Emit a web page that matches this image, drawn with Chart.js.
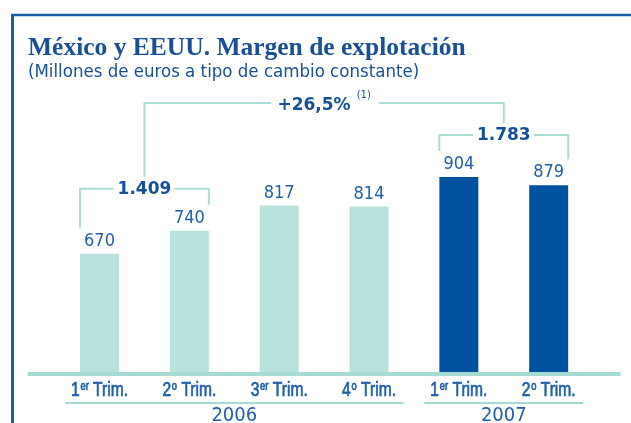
<!DOCTYPE html>
<html>
<head>
<meta charset="utf-8">
<script src="https://cdn.jsdelivr.net/npm/chart.js@4"></script>
<style>
  html, body { margin: 0; padding: 0; background: #ffffff; overflow: hidden; }
  #wrap { width: 631px; height: 423px; position: relative; }
</style>
</head>
<body>
<div id="wrap"><canvas id="c" width="631" height="423"></canvas></div>
<script>
// Quarterly operating margin, Mexico and USA (millions of euros, constant FX)
const quarterNumbers = ['1', '2', '3', '4', '1', '2'];
const quarterSuffixes = ['er', 'o', 'er', 'o', 'er', 'o'];
const quarterWord = 'Trim.';
const years = ['2006', '2007'];
const quarterYear = [0, 0, 0, 0, 1, 1];
const values = [670, 740, 817, 814, 904, 879];

// First-half totals and the year-on-year change between them
const halfTotals = ['1.409', '1.783'];
const halfMembers = [[0, 1], [4, 5]];
const growthLabel = '+26,5%';
const growthNote = '(1)';

const titleText = 'México y EEUU. Margen de explotación';
const subtitleText = '(Millones de euros a tipo de cambio constante)';

const COLORS = {
  frame: '#1b5ea8',
  title: '#1a4f98',
  text: '#2260aa',
  strong: '#17509a',
  light: '#b9e2dc',
  dark: '#00519e',
  rule: '#a6dbd4',
  bracket: '#a9ddd6'
};

const FONT_REG = '"Liberation Sans Narrow", "DejaVu Sans Condensed", sans-serif';
const FONT_BOLD = '"DejaVu Sans", sans-serif';
const TICK_FONT = '"Liberation Sans", sans-serif';
const TICK_SQUEEZE = 0.78;   // horizontal compression for the condensed tick lettering

const decorations = {
  id: 'decorations',
  beforeDraw(chart) {
    const ctx = chart.ctx;
    ctx.save();
    // frame: top rule and left rule
    ctx.strokeStyle = COLORS.frame;
    ctx.lineWidth = 2.5;
    ctx.beginPath();
    ctx.moveTo(11, 15); ctx.lineTo(chart.width, 15);
    ctx.stroke();
    ctx.lineWidth = 3;
    ctx.beginPath();
    ctx.moveTo(12.5, 14); ctx.lineTo(12.5, chart.height);
    ctx.stroke();

    // headings
    ctx.fillStyle = COLORS.title;
    ctx.textBaseline = 'alphabetic';
    ctx.textAlign = 'left';
    ctx.font = 'bold 25.5px "Liberation Serif", serif';
    ctx.fillText(titleText, 28, 55);
    ctx.font = '18.5px ' + FONT_REG;
    ctx.fillText(subtitleText, 28, 77);
    ctx.restore();
  },
  afterDatasetsDraw(chart) {
    const ctx = chart.ctx;
    const bars = chart.getDatasetMeta(0).data;
    const area = chart.chartArea;
    ctx.save();

    // baseline rule
    ctx.strokeStyle = COLORS.rule;
    ctx.lineWidth = 4;
    ctx.beginPath();
    ctx.moveTo(area.left - 27, area.bottom - 1);
    ctx.lineTo(area.right + 27, area.bottom - 1);
    ctx.stroke();

    // value labels above bars
    ctx.fillStyle = COLORS.text;
    ctx.textAlign = 'center';
    ctx.textBaseline = 'alphabetic';
    ctx.font = '18px "DejaVu Sans Condensed", sans-serif';
    bars.forEach((b, i) => {
      ctx.fillText(String(values[i]), b.x, b.y - 8);
    });

    // quarter labels with ordinal superscripts (condensed by a horizontal squeeze)
    const tickY = area.bottom + 21;
    const numFont = '20px ' + TICK_FONT;
    const supFont = '12px ' + TICK_FONT;
    ctx.strokeStyle = COLORS.text;
    ctx.lineWidth = 0.7;
    const draw = (s, x, y) => { ctx.fillText(s, x, y); ctx.strokeText(s, x, y); };
    bars.forEach((b, i) => {
      ctx.font = numFont;
      const wNum = ctx.measureText(quarterNumbers[i]).width;
      const wWord = ctx.measureText(' ' + quarterWord).width;
      ctx.font = supFont;
      const wSup = ctx.measureText(quarterSuffixes[i]).width + 1;
      const total = wNum + wSup + wWord;
      ctx.save();
      ctx.translate(b.x - total * TICK_SQUEEZE / 2, tickY);
      ctx.scale(TICK_SQUEEZE, 1);
      ctx.textAlign = 'left';
      ctx.font = numFont;
      draw(quarterNumbers[i], 0, 0);
      ctx.font = supFont;
      draw(quarterSuffixes[i], wNum + 1, -6);
      ctx.font = numFont;
      draw(' ' + quarterWord, wNum + wSup, 0);
      ctx.restore();
    });

    // year group rules and labels
    years.forEach((yr, g) => {
      const idx = quarterYear.map((q, i) => q === g ? i : -1).filter(i => i >= 0);
      const first = bars[idx[0]], last = bars[idx[idx.length - 1]];
      const x0 = first.x - first.width / 2 - 15;
      const x1 = last.x + last.width / 2 + 15;
      ctx.strokeStyle = COLORS.rule;
      ctx.lineWidth = 2;
      ctx.beginPath();
      ctx.moveTo(x0, area.bottom + 28);
      ctx.lineTo(x1, area.bottom + 28);
      ctx.stroke();
      ctx.fillStyle = COLORS.text;
      ctx.textAlign = 'center';
      ctx.font = '20px "DejaVu Sans Condensed", sans-serif';
      ctx.fillText(yr, (x0 + x1) / 2, area.bottom + 46);
    });

    // first-half brackets
    ctx.strokeStyle = COLORS.bracket;
    ctx.lineWidth = 2;
    ctx.font = 'bold 17px ' + FONT_BOLD;
    ctx.textAlign = 'center';
    ctx.textBaseline = 'middle';
    const halfGeom = halfMembers.map((m, h) => {
      const a = bars[m[0]], b = bars[m[1]];
      const xl = a.x - a.width / 2;
      const xr = b.x + b.width / 2;
      const y = Math.min(a.y, b.y) - 42;
      const cx = (xl + xr) / 2;
      const w = ctx.measureText(halfTotals[h]).width;
      ctx.beginPath();
      ctx.moveTo(xl, a.y - 26); ctx.lineTo(xl, y); ctx.lineTo(cx - w / 2 - 4, y);
      ctx.moveTo(cx + w / 2 + 3, y); ctx.lineTo(xr, y); ctx.lineTo(xr, b.y - 26);
      ctx.stroke();
      ctx.fillStyle = COLORS.strong;
      ctx.fillText(halfTotals[h], cx, y + 1);
      return { cx, y };
    });

    // year-on-year bracket
    const g0 = halfGeom[0], g1 = halfGeom[1];
    const gy = Math.min(g0.y, g1.y) - 32;
    const gcx = (g0.cx + g1.cx) / 2;
    ctx.font = 'bold 17px ' + FONT_BOLD;
    const wG = ctx.measureText(growthLabel).width;
    ctx.font = '10px ' + FONT_BOLD;
    const wN = ctx.measureText(growthNote).width;
    const totalW = wG + 6 + wN;
    const gx0 = gcx - totalW / 2;
    ctx.beginPath();
    ctx.moveTo(g0.cx, g0.y - 12); ctx.lineTo(g0.cx, gy); ctx.lineTo(gx0 - 6, gy);
    ctx.moveTo(gx0 + totalW + 8, gy); ctx.lineTo(g1.cx, gy); ctx.lineTo(g1.cx, g1.y - 12);
    ctx.stroke();
    ctx.fillStyle = COLORS.strong;
    ctx.textAlign = 'left';
    ctx.textBaseline = 'alphabetic';
    ctx.font = 'bold 17px ' + FONT_BOLD;
    ctx.fillText(growthLabel, gx0, gy + 7);
    ctx.font = '10px ' + FONT_BOLD;
    ctx.fillText(growthNote, gx0 + wG + 6, gy - 5);

    ctx.restore();
  }
};

new Chart(document.getElementById('c'), {
  type: 'bar',
  data: {
    labels: quarterNumbers.map((q, i) => q + quarterSuffixes[i] + ' ' + quarterWord),
    datasets: [{
      data: values,
      backgroundColor: quarterYear.map(y => y === 0 ? COLORS.light : COLORS.dark),
      borderWidth: 0,
      barPercentage: 0.434,
      categoryPercentage: 1.0
    }]
  },
  options: {
    responsive: false,
    animation: false,
    devicePixelRatio: 1,
    layout: { padding: { left: 54.6, right: 37.4, top: 112.8, bottom: 48 } },
    plugins: { legend: { display: false }, tooltip: { enabled: false }, title: { display: false } },
    scales: {
      x: { display: false },
      y: { display: false, min: 300, max: 1100 }
    }
  },
  plugins: [decorations]
});
</script>
</body>
</html>
